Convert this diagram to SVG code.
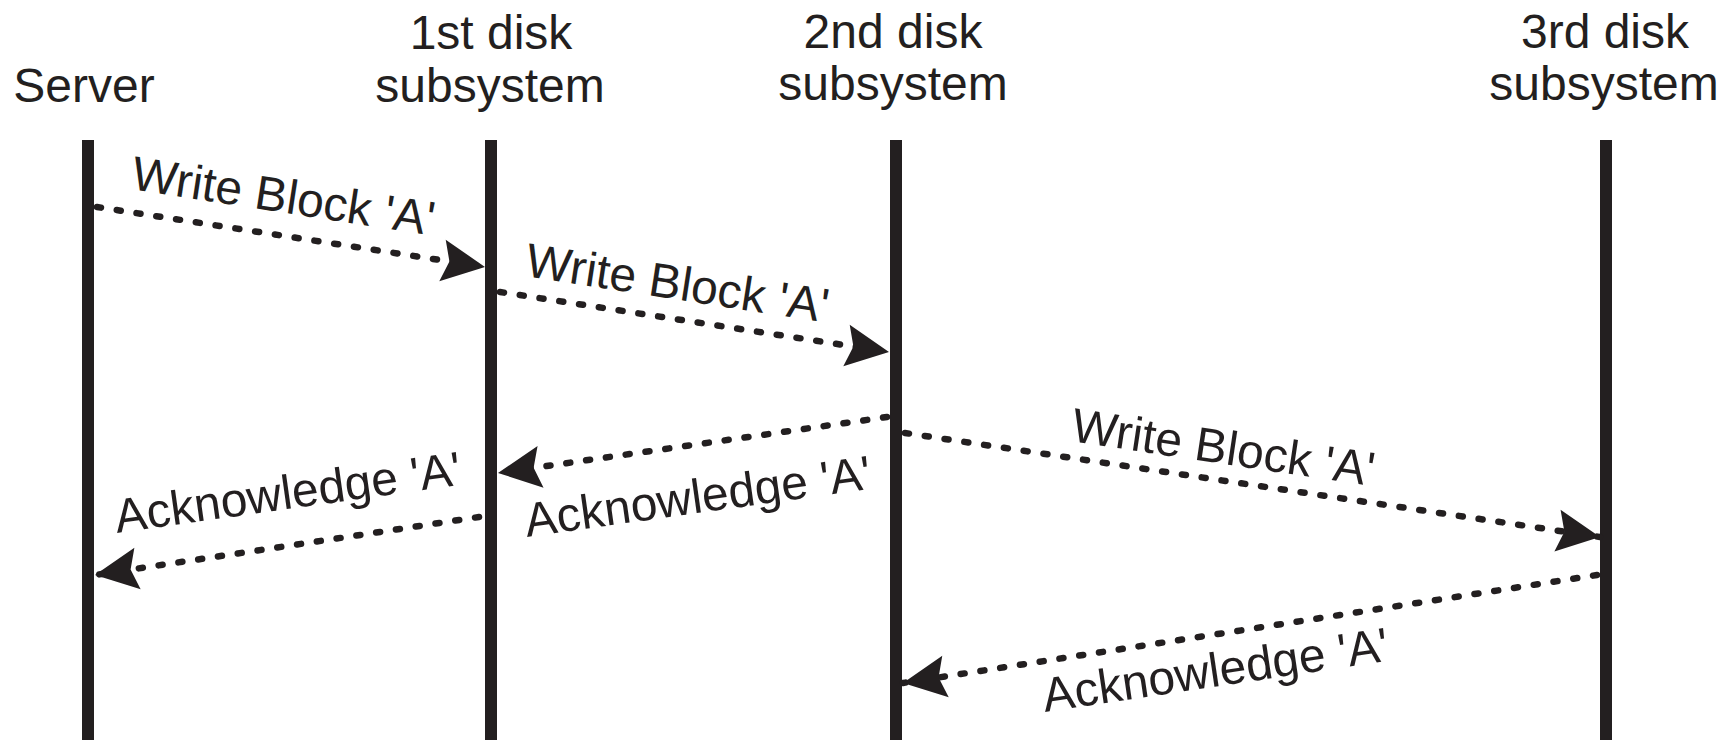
<svg xmlns="http://www.w3.org/2000/svg" width="1729" height="742" viewBox="0 0 1729 742">
<defs>
<style>
text{font-family:"Liberation Sans",Arial,sans-serif;fill:#231f20;}
.hd{font-size:48px;text-anchor:middle;}
.lb{font-size:48px;}
.life{stroke:#231f20;stroke-width:12;fill:none;}
.msg{stroke:#231f20;stroke-width:6.5;stroke-dasharray:4 16;stroke-linecap:round;fill:none;marker-end:url(#ah);}
</style>
<marker id="ah" markerUnits="userSpaceOnUse" viewBox="-46 -24 48 48" refX="0" refY="0" markerWidth="48" markerHeight="48" orient="auto">
<path d="M0,0 L-43,-21 L-36,0 L-43,21 Z" fill="#231f20"/>
</marker>
</defs>
<rect width="1729" height="742" fill="#fff"/>
<g id="server">
<text class="hd" x="84" y="102">Server</text>
<line class="life" x1="88" y1="140" x2="88" y2="740"/>
</g>
<g id="disk1">
<text class="hd" x="491" y="49">1st disk</text>
<text class="hd" x="490" y="102">subsystem</text>
<line class="life" x1="491" y1="140" x2="491" y2="740"/>
</g>
<g id="disk2">
<text class="hd" x="893" y="48">2nd disk</text>
<text class="hd" x="893" y="100">subsystem</text>
<line class="life" x1="896" y1="140" x2="896" y2="740"/>
</g>
<g id="disk3">
<text class="hd" x="1605" y="48">3rd disk</text>
<text class="hd" x="1604" y="100">subsystem</text>
<line class="life" x1="1606" y1="140" x2="1606" y2="740"/>
</g>
<g id="connectors">
<path class="msg" d="M97,207 L485,267"/>
<path class="msg" d="M500,292 L889,352"/>
<path class="msg" d="M887,417 L498,473"/>
<path class="msg" d="M905,433 L1600,537"/>
<path class="msg" d="M1597,575 L903,683"/>
<path class="msg" d="M479,517 L95,575"/>
</g>
<g id="labels">
<text class="lb" transform="translate(130,189) rotate(8.75)">Write Block 'A'</text>
<text class="lb" transform="translate(524,276) rotate(8.75)">Write Block 'A'</text>
<text class="lb" transform="translate(1070,441) rotate(8.5)">Write Block 'A'</text>
<text class="lb" transform="translate(527,537) rotate(-8)">Acknowledge 'A'</text>
<text class="lb" transform="translate(117,533) rotate(-8)">Acknowledge 'A'</text>
<text class="lb" transform="translate(1045,712) rotate(-8.5)">Acknowledge 'A'</text>
</g>
</svg>
